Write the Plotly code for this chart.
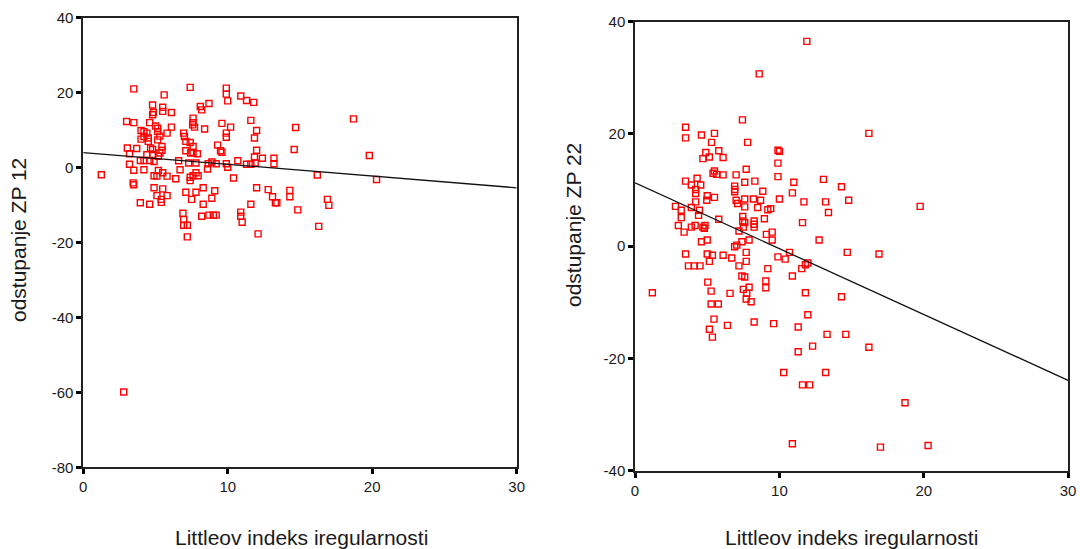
import plotly.graph_objects as go

# ---- data: left panel (ZP 12) ----
left_x = [3.5, 7.4, 9.9, 9.9, 10.0, 5.6, 10.9, 11.3, 11.8, 8.7, 4.8, 5.5, 5.5, 8.2, 4.85, 4.8, 6.1,
          11.6, 7.6, 7.6, 3.0, 3.5, 4.6, 9.6, 5.0, 5.15, 6.1, 7.7, 8.4, 10.2, 14.7, 18.7,
          4.0, 4.2, 4.4, 4.2, 4.5, 5.15, 5.3, 5.15, 5.8, 6.95, 7.0, 7.1, 9.9, 9.9, 12.0, 11.85,
          4.0, 4.5, 7.4, 9.3, 3.7, 4.8, 5.45, 5.45, 7.1, 7.6, 7.6, 7.9, 9.5, 9.6, 12.0, 14.6,
          3.2, 4.4, 4.8, 5.2, 11.85, 12.4, 13.2, 13.2, 19.8, 3.95, 4.2, 4.6, 4.9, 6.6, 7.3, 7.8,
          8.9, 9.2, 9.9, 10.7, 11.3, 11.6, 20.3, 3.2, 1.25, 3.5, 4.2, 5.2, 5.5, 5.1, 5.8, 4.9,
          6.7, 6.4, 7.4, 7.6, 7.95, 7.8, 7.4, 8.6, 10.0, 10.4, 16.2, 3.45, 3.5, 4.9, 5.5,
          5.1, 5.8, 5.4, 5.4, 3.95, 4.6, 7.1, 7.8, 8.3, 7.5, 9.1, 8.9, 8.3, 12.0, 12.8, 13.1,
          13.3, 13.4, 14.3, 14.3, 11.6, 14.85, 16.9, 17.0, 6.9, 8.2, 8.7, 9.0, 9.2, 10.9, 10.9,
          11.0, 6.95, 6.95, 7.2, 7.2, 12.1, 16.3, 2.8,
          7.57, 3.05, 4.66, 5.3, 8.65, 11.9, 7.43, 8.1]
left_y = [21.0, 21.4, 21.2, 19.6, 17.8, 19.4, 19.1, 17.9, 17.4, 17.1, 16.7, 16.1, 15.0, 15.4, 14.7, 14.1, 14.7,
          12.6, 13.2, 12.0, 12.3, 12.0, 12.0, 11.8, 11.1, 10.5, 10.8, 10.8, 10.3, 10.8, 10.7, 13.0,
          9.9, 9.6, 9.2, 8.3, 7.9, 9.6, 8.4, 7.4, 9.2, 9.2, 8.3, 7.0, 9.2, 8.1, 9.9, 7.9,
          7.6, 7.0, 6.7, 6.0, 5.1, 4.8, 5.6, 4.6, 4.5, 5.6, 4.0, 3.7, 4.5, 4.1, 4.6, 4.8,
          3.7, 3.4, 3.4, 3.0, 2.8, 2.5, 2.5, 1.0, 3.2, 1.9, 1.9, 1.9, 1.6, 1.8, 1.2, 1.2,
          1.5, 1.0, 1.0, 1.8, 0.9, 0.9, -3.2, 0.9, -1.9, -0.7, -0.6, -0.8, -1.4, -2.3, -2.3, -2.2,
          -0.6, -3.0, -2.6, -2.2, -2.2, -1.4, -3.5, -0.4, 0.1, -2.8, -2.0, -4.1, -4.6, -5.4, -5.7,
          -7.5, -7.5, -8.5, -9.3, -9.4, -9.8, -6.6, -6.6, -5.4, -8.5, -6.2, -8.2, -9.8, -5.4, -5.9, -7.8,
          -9.4, -9.4, -6.1, -7.8, -9.8, -11.3, -8.5, -10.1, -12.2, -13.0, -12.7, -12.7, -12.7, -11.9, -13.0,
          -14.6, -13.9, -15.4, -15.4, -18.5, -17.7, -15.7, -59.9,
          11.4, 5.2, 5.2, 3.9, 1.0, 1.2, 3.9, 16.3]

# ---- data: right panel (ZP 22) ----
right_x = [7.44, 3.5, 3.5, 4.6, 5.5, 5.3, 7.8, 16.2, 4.9, 5.8, 5.15, 4.7, 6.1, 9.9, 10.0, 9.9,
           5.5, 5.4, 5.65, 6.1, 7.7, 7.0, 9.9, 3.5, 4.3, 3.9, 4.55, 4.2, 4.2, 6.9, 6.9, 6.9,
           7.6, 8.3, 11.0, 13.05, 14.3, 8.85, 10.9, 5.0, 5.5, 4.97, 4.2, 7.0, 7.1, 7.6, 8.2, 8.7,
           7.6, 8.5, 9.2, 9.4, 10.0, 11.7, 13.2, 14.8, 13.4, 19.75, 2.8, 3.2, 3.2, 3.0, 3.4,
           3.9, 4.46, 4.4, 5.8, 7.46, 7.46, 7.6, 7.5, 8.25, 8.25, 8.25, 8.96, 3.9, 4.16, 4.7, 4.85, 4.8,
           7.2, 9.5, 9.1, 9.5, 11.6, 12.75, 7.4, 7.9, 4.6, 5.0, 7.05, 6.9, 3.5, 5.0, 5.36, 6.1,
           6.7, 7.7, 7.7, 5.15, 9.9, 10.4, 10.7, 14.7, 16.9, 3.7, 4.1, 4.5, 7.2, 9.2, 11.8, 11.97, 11.55,
           10.9, 7.4, 7.6, 7.9, 5.04, 5.27, 9.06, 9.06, 7.5, 7.74, 7.7, 8.04, 6.58, 1.2, 11.8, 14.3,
           5.27, 5.77, 11.97, 5.47, 6.4, 8.25, 9.6, 11.3, 5.15, 5.36, 13.3, 14.6, 16.2, 12.3, 11.3,
           10.3, 13.2, 11.6, 12.1, 18.7, 10.9, 17.0, 20.3, 11.9, 8.6]
right_y = [22.5, 21.2, 19.3, 19.8, 20.1, 18.5, 18.5, 20.1, 16.7, 17.0, 15.9, 15.6, 15.8, 17.1, 16.9, 14.8,
           13.4, 13.0, 12.8, 12.7, 13.7, 12.7, 12.4, 11.6, 12.1, 10.9, 10.9, 10.1, 9.4, 10.7, 10.1, 9.7,
           11.4, 11.6, 11.4, 11.9, 10.6, 9.8, 9.5, 9.0, 8.7, 8.2, 7.9, 8.2, 7.6, 8.4, 8.4, 8.2,
           7.0, 6.9, 6.5, 6.7, 8.4, 7.9, 7.9, 8.2, 6.0, 7.1, 7.1, 6.4, 5.1, 3.7, 2.5,
           6.9, 6.4, 5.5, 4.8, 5.3, 4.5, 4.2, 3.4, 4.5, 3.9, 3.4, 4.9, 3.4, 3.7, 3.4, 3.7, 3.2,
           2.7, 2.5, 2.1, 1.1, 4.2, 1.1, 0.8, 1.1, 0.8, 1.1, 0.2, -0.1, -1.4, -1.4, -1.6, -1.6,
           -2.1, -1.1, -2.7, -2.7, -1.9, -2.3, -1.1, -1.1, -1.4, -3.5, -3.5, -3.5, -3.5, -4.0, -3.3, -3.0, -4.0,
           -5.3, -5.3, -5.5, -7.3, -6.4, -8.0, -6.2, -7.4, -7.7, -8.4, -9.4, -9.9, -8.4, -8.3, -8.3, -9.0,
           -10.3, -10.3, -12.2, -13.0, -14.1, -13.5, -13.8, -14.4, -14.8, -16.2, -15.7, -15.7, -18.0, -17.8, -18.8,
           -22.5, -22.5, -24.7, -24.7, -27.9, -35.2, -35.8, -35.5, 36.5, 30.7]

# ---- fit lines (endpoints) ----
fit_x = [0, 30]
left_fit_y = [4.0, -5.4]
right_fit_y = [11.3, -23.9]

# ---- tick labels ----
x_ticks = [0, 10, 20, 30]
x_ticktext = ["0", "10", "20", "30"]
left_y_ticks = [40, 20, 0, -20, -40, -60, -80]
left_y_ticktext = ["40", "20", "0", "-20", "-40", "-60", "-80"]
right_y_ticks = [40, 20, 0, -20, -40]
right_y_ticktext = ["40", "20", "0", "-20", "-40"]

x_title = "Littleov indeks iregularnosti"
left_y_title = "odstupanje ZP 12"
right_y_title = "odstupanje ZP 22"

FONT = "Liberation Sans, Arial, sans-serif"
RED = "#ff0000"

marker = dict(symbol="square-open", size=6, color=RED, line=dict(width=1.4, color=RED))

fig = go.Figure()
fig.add_trace(go.Scatter(x=left_x, y=left_y, mode="markers", marker=marker,
                         xaxis="x", yaxis="y", showlegend=False))
fig.add_trace(go.Scatter(x=fit_x, y=left_fit_y, mode="lines", line=dict(color="#111111", width=1.3),
                         xaxis="x", yaxis="y", showlegend=False))
fig.add_trace(go.Scatter(x=right_x, y=right_y, mode="markers", marker=marker,
                         xaxis="x2", yaxis="y2", showlegend=False))
fig.add_trace(go.Scatter(x=fit_x, y=right_fit_y, mode="lines", line=dict(color="#111111", width=1.3),
                         xaxis="x2", yaxis="y2", showlegend=False))

axis_common = dict(showgrid=False, zeroline=False, showline=True, linecolor="#222222", linewidth=1.6,
                   mirror=True, ticks="outside", ticklen=5, tickwidth=2.5, tickcolor="#000000",
                   automargin=False,
                   tickfont=dict(family=FONT, size=15, color="#1a1a1a"))

fig.update_layout(
    width=1080, height=549,
    margin=dict(l=0, r=0, t=0, b=0, autoexpand=False),
    paper_bgcolor="white", plot_bgcolor="white",
    font=dict(family=FONT),
    xaxis=dict(domain=[0.0771, 0.4784], range=[0, 30], tickmode="array", tickvals=x_ticks,
               ticktext=x_ticktext, anchor="y", **axis_common),
    yaxis=dict(domain=[0.1488, 0.9678], range=[-80, 40], tickmode="array", tickvals=left_y_ticks,
               ticktext=left_y_ticktext, anchor="x", **axis_common),
    xaxis2=dict(domain=[0.588, 0.989], range=[0, 30], tickmode="array", tickvals=x_ticks,
                ticktext=x_ticktext, anchor="y2", **axis_common),
    yaxis2=dict(domain=[0.1426, 0.9605], range=[-40, 40], tickmode="array", tickvals=right_y_ticks,
                ticktext=right_y_ticktext, anchor="x2", **axis_common),
    annotations=[
        dict(text=x_title, x=301 / 1080, y=1 - 537 / 549, xref="paper", yref="paper",
             xanchor="center", yanchor="middle", showarrow=False,
             font=dict(family=FONT, size=21, color="#1a1a1a")),
        dict(text=x_title, x=851 / 1080, y=1 - 537 / 549, xref="paper", yref="paper",
             xanchor="center", yanchor="middle", showarrow=False,
             font=dict(family=FONT, size=21, color="#1a1a1a")),
        dict(text=left_y_title, x=18 / 1080, y=1 - 240 / 549, xref="paper", yref="paper",
             xanchor="center", yanchor="middle", showarrow=False, textangle=-90,
             font=dict(family=FONT, size=21, color="#1a1a1a")),
        dict(text=right_y_title, x=573 / 1080, y=1 - 225 / 549, xref="paper", yref="paper",
             xanchor="center", yanchor="middle", showarrow=False, textangle=-90,
             font=dict(family=FONT, size=21, color="#1a1a1a")),
    ],
)

fig.write_html("out.html", config={"displayModeBar": False},
               post_script="document.body.style.margin='0';document.body.style.overflow='hidden';")
